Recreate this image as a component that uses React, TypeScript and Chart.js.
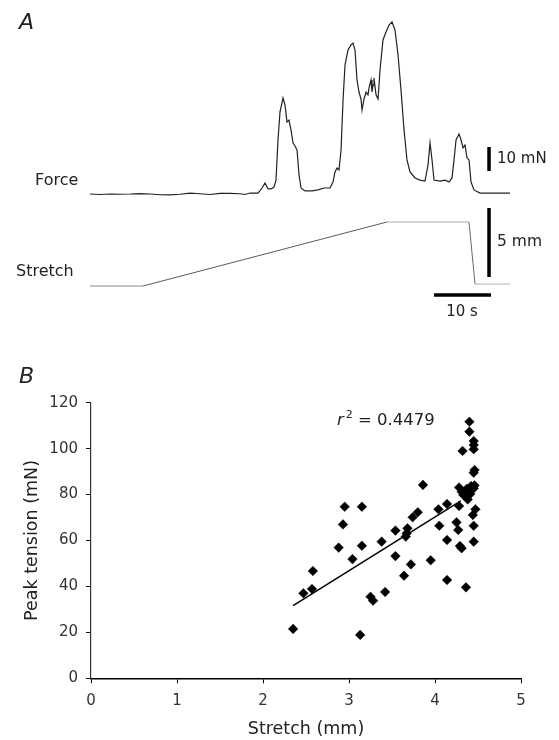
import React, { useEffect, useRef } from 'react';
import { Chart, registerables } from 'chart.js';
Chart.register(...registerables);

// ---------- Panel A data ----------
const forceTime = [
  0, 1.75, 3.51, 5.26, 7.02, 8.77, 10.53, 12.28, 14.04, 15.79, 17.54, 19.3, 21.05, 22.81, 24.56, 26.32,
  27.19, 28.07, 29.47, 30.18, 30.7, 31.23, 31.75, 32.28, 32.63, 32.98, 33.33, 33.86, 34.21, 34.56, 34.91,
  35.26, 35.61, 35.96, 36.32, 36.67, 37.02, 37.72, 38.95, 40.0, 41.05, 42.11, 42.63, 42.98, 43.33, 43.68,
  44.04, 44.39, 44.74, 45.26, 45.79, 46.14, 46.49, 46.84, 47.19, 47.54, 47.72, 48.07, 48.42, 48.77, 48.95,
  49.3, 49.47, 49.65, 49.82, 50.18, 50.53, 50.88, 51.4, 51.93, 52.46, 52.98, 53.51, 54.04, 54.56, 55.09,
  55.61, 56.14, 57.02, 57.89, 58.77, 59.3, 59.65, 60.0, 60.35, 61.4, 62.28, 62.98, 63.51, 63.86, 64.21,
  64.74, 65.09, 65.44, 65.79, 66.14, 66.49, 66.84, 67.37, 68.42, 70.18, 71.93, 73.68,
];
const forceValue = [
  0, -0.2, 0, -0.1, 0, 0.2, 0, -0.3, -0.4, -0.1, 0.4, 0.1, -0.2, 0.3, 0.3, 0.1,
  -0.2, 0.4, 0.4, 2.5, 4.6, 2.1, 2.1, 2.9, 5.8, 22.5, 34.2, 40.0, 37.1, 30.0, 30.8,
  26.7, 21.3, 20.0, 18.3, 7.9, 2.5, 1.3, 1.3, 1.7, 2.5, 2.5, 5.0, 9.2, 10.8, 10.0,
  18.3, 39.2, 53.8, 60.0, 62.1, 62.9, 60.0, 47.5, 42.5, 39.6, 35.0, 39.6, 42.5, 41.3, 44.2,
  47.5, 42.5, 45.4, 48.3, 41.3, 39.6, 51.7, 64.2, 67.5, 70.4, 71.7, 68.3, 57.9, 43.3, 26.7,
  14.2, 9.2, 6.7, 5.8, 5.4, 12.1, 21.3, 14.2, 5.8, 5.4, 5.8, 5.0, 6.7, 14.2, 22.5,
  25.0, 22.5, 19.2, 20.4, 15.0, 14.2, 5.0, 1.7, 0.4, 0.4, 0.4, 0.4,
];
const stretchTime = [0, 9.3, 52.11, 66.49, 67.54, 73.68];
const stretchValue = [0, 0, 4.64, 4.64, 0.14, 0.14];
const stretchSegmentColors = ['#8a8a8a', '#5a5a5a', '#a8a8a8', '#6a6a6a', '#b0b0b0'];

// scale bars (calibration)
const barTime = 70.0;
const forceBarStart = 9.6; // mN, bar length 10 mN
const forceBarLength = 10;
const stretchBarStart = 0.65; // mm, bar length 5 mm
const stretchBarLength = 5;
const timeBarStart = 60.35; // s, bar length 10 s
const timeBarLength = 10;
const timeBarLevel = -0.65; // on stretch axis

// ---------- Panel B data ----------
const stretchMm = [
  4.4, 4.4, 4.45, 4.45, 4.45, 4.32, 4.46, 4.45, 3.86, 4.28, 4.42, 4.45, 4.31, 4.33, 4.38,
  4.28, 4.14, 4.04, 3.8, 3.74, 2.95, 3.15, 2.93, 4.47, 4.44, 4.05, 4.25, 4.27, 4.45, 3.54,
  3.68, 3.67, 3.66, 3.38, 3.15, 2.88, 4.14, 4.29, 4.31, 4.45, 3.04, 3.54, 3.72, 3.95, 3.64,
  4.14, 4.36, 2.58, 2.57, 2.47, 3.42, 3.25, 3.28, 2.35, 3.13, 4.37, 4.41, 4.46,
];
const peakTension = [
  111.7, 107.4, 103.3, 101.6, 99.7, 99.0, 90.7, 89.5, 84.2, 83.1, 83.7, 82.7, 81.2, 79.8, 77.9,
  75.0, 75.9, 73.6, 72.3, 70.1, 74.7, 74.7, 67.0, 73.6, 71.1, 66.4, 67.9, 64.6, 66.4, 64.3,
  65.3, 63.1, 61.7, 59.5, 57.7, 56.9, 60.2, 57.6, 56.6, 59.5, 51.9, 53.2, 49.6, 51.4, 44.7,
  42.8, 39.6, 46.7, 38.9, 37.0, 37.6, 35.5, 33.8, 21.5, 18.9, 82.5, 80.3, 84.0,
];
const fitStretch = [2.35, 4.3];
const fitTension = [31.6, 77.3];
const xTickValues = [0, 1, 2, 3, 4, 5];
const yTickValues = [0, 20, 40, 60, 80, 100, 120];
const rSquared = '0.4479';

const FONT = "'DejaVu Sans', sans-serif";

function PanelA() {
  const ref = useRef<HTMLCanvasElement | null>(null);
  useEffect(() => {
    if (!ref.current) return;
    const bar = (pts: { x: number; y: number }[], axis: string) => ({
      data: pts,
      yAxisID: axis,
      showLine: true,
      borderColor: '#000',
      borderWidth: 3.5,
      borderCapStyle: 'butt' as const,
      pointRadius: 0,
    });
    const chart = new Chart(ref.current, {
      type: 'scatter',
      data: {
        datasets: [
          {
            data: forceTime.map((t, i) => ({ x: t, y: forceValue[i] })),
            yAxisID: 'yF',
            showLine: true,
            borderColor: '#222',
            borderWidth: 1.2,
            pointRadius: 0,
          },
          {
            data: stretchTime.map((t, i) => ({ x: t, y: stretchValue[i] })),
            yAxisID: 'yS',
            showLine: true,
            borderColor: '#777',
            borderWidth: 1,
            pointRadius: 0,
            segment: {
              borderColor: (ctx: any) => stretchSegmentColors[ctx.p0DataIndex] || '#777',
            },
          },
          bar([{ x: barTime, y: forceBarStart }, { x: barTime, y: forceBarStart + forceBarLength }], 'yF'),
          bar([{ x: barTime, y: stretchBarStart }, { x: barTime, y: stretchBarStart + stretchBarLength }], 'yS'),
          bar([{ x: timeBarStart, y: timeBarLevel }, { x: timeBarStart + timeBarLength, y: timeBarLevel }], 'yS'),
        ],
      },
      options: {
        responsive: false,
        animation: false,
        layout: { padding: { left: 90, right: 49, top: 10, bottom: 20 } },
        plugins: { legend: { display: false }, tooltip: { enabled: false } },
        scales: {
          x: { type: 'linear', min: 0, max: 73.68, display: false },
          yF: { type: 'linear', min: -48.33, max: 76.67, display: false },
          yS: { type: 'linear', min: -1.739, max: 20.0, display: false },
        },
      },
    });
    return () => chart.destroy();
  }, []);
  return <canvas ref={ref} width={559} height={330} style={{ position: 'absolute', left: 0, top: 0 }} />;
}

function PanelB() {
  const ref = useRef<HTMLCanvasElement | null>(null);
  useEffect(() => {
    if (!ref.current) return;
    const chart = new Chart(ref.current, {
      type: 'scatter',
      data: {
        datasets: [
          {
            data: stretchMm.map((x, i) => ({ x, y: peakTension[i] })),
            pointStyle: 'rectRot',
            pointRadius: 4.8,
            backgroundColor: '#000',
            borderColor: '#000',
            borderWidth: 0.5,
          },
          {
            data: fitStretch.map((x, i) => ({ x, y: fitTension[i] })),
            showLine: true,
            borderColor: '#000',
            borderWidth: 1.5,
            pointRadius: 0,
          },
        ],
      },
      options: {
        responsive: false,
        animation: false,
        layout: { padding: { left: 0, right: 38, top: 72.7, bottom: 0 } },
        plugins: { legend: { display: false }, tooltip: { enabled: false } },
        scales: {
          x: {
            type: 'linear',
            min: xTickValues[0],
            max: xTickValues[xTickValues.length - 1],
            afterFit: (s: any) => { s.height = 61.7; },
            afterBuildTicks: (s: any) => { s.ticks = xTickValues.map((v) => ({ value: v })); },
            border: { display: true, color: '#000', width: 1.5 },
            grid: { display: true, drawOnChartArea: false, drawTicks: true, tickLength: 5, color: '#000', tickColor: '#000' },
            ticks: { color: '#333', font: { family: FONT, size: 15 }, padding: 8.5 },
            title: {
              display: true,
              text: 'Stretch (mm)',
              color: '#222',
              font: { family: FONT, size: 17.5 },
              padding: { top: 0, bottom: 0.5 },
            },
          },
          y: {
            type: 'linear',
            min: yTickValues[0],
            max: yTickValues[yTickValues.length - 1],
            afterFit: (s: any) => { s.width = 91; },
            afterBuildTicks: (s: any) => { s.ticks = yTickValues.map((v) => ({ value: v })); },
            border: { display: true, color: '#333', width: 1.2 },
            grid: { display: true, drawOnChartArea: false, drawTicks: true, tickLength: 5, color: '#000', tickColor: '#000' },
            ticks: { color: '#333', font: { family: FONT, size: 15 }, padding: 8 },
            title: {
              display: true,
              text: 'Peak tension (mN)',
              color: '#222',
              font: { family: FONT, size: 17.5 },
              padding: { top: 21.5, bottom: 0 },
            },
          },
        },
      },
    });
    return () => chart.destroy();
  }, []);
  return <canvas ref={ref} width={559} height={410} style={{ position: 'absolute', left: 0, top: 330 }} />;
}

const label = (left: number, centerY: number, size: number, extra: React.CSSProperties = {}) => ({
  position: 'absolute' as const,
  left,
  top: centerY,
  transform: 'translateY(-50%)',
  fontFamily: FONT,
  fontSize: size,
  lineHeight: 1,
  whiteSpace: 'nowrap' as const,
  color: '#222',
  ...extra,
});

export default function App() {
  return (
    <div style={{ position: 'absolute', left: 0, top: 0, width: 559, height: 740, background: '#fff', overflow: 'hidden' }}>
      <PanelA />
      <PanelB />
      <div style={label(19, 21.5, 22, { fontStyle: 'italic' })}>A</div>
      <div style={label(19, 375.5, 22, { fontStyle: 'italic' })}>B</div>
      <div style={label(35, 180, 16)}>Force</div>
      <div style={label(16, 271, 16)}>Stretch</div>
      <div style={label(497, 157.5, 15)}>10 mN</div>
      <div style={label(497, 241.5, 15.5)}>5 mm</div>
      <div style={label(462, 311, 15, { transform: 'translate(-50%, -50%)' })}>10 s</div>
      <div style={label(337, 420, 16.5)}>
        <span style={{ fontStyle: 'italic' }}>r</span>
        <sup style={{ fontSize: 11, verticalAlign: 'top', position: 'relative', top: -3, marginLeft: 2 }}>2</sup>
        {' = ' + rSquared}
      </div>
    </div>
  );
}
